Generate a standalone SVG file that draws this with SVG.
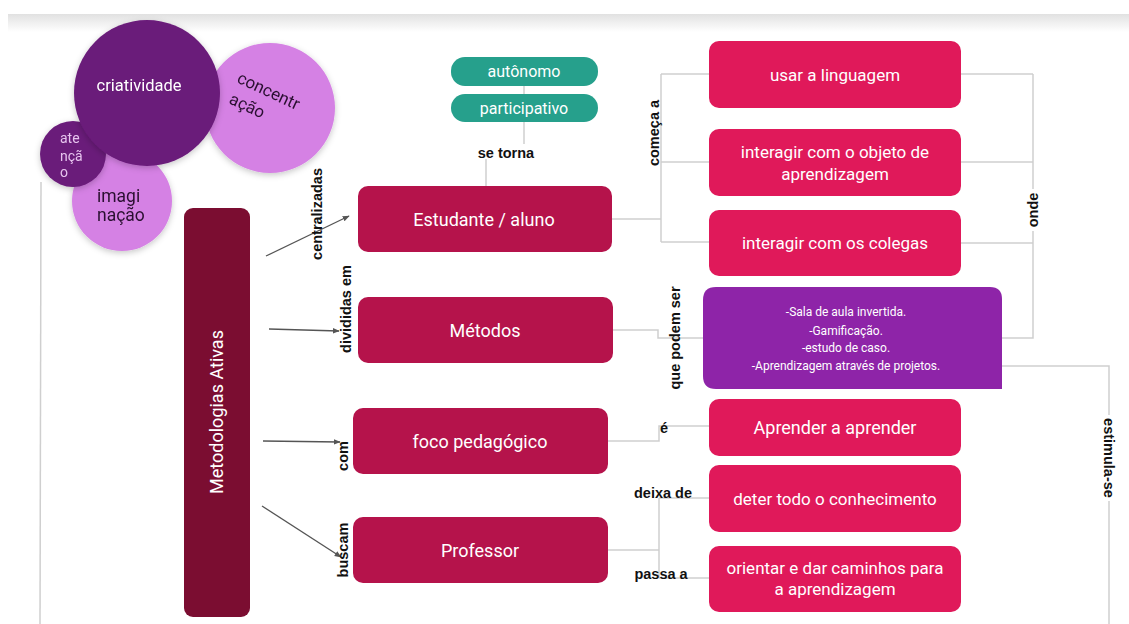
<svg xmlns="http://www.w3.org/2000/svg" width="1129" height="624" viewBox="0 0 1129 624">
  <defs>
    <linearGradient id="topShade" x1="0" y1="0" x2="0" y2="1">
      <stop offset="0" stop-color="#e1e1e1"/>
      <stop offset="1" stop-color="#ffffff"/>
    </linearGradient>
    <filter id="soft" x="-20%" y="-20%" width="140%" height="140%">
      <feDropShadow dx="0" dy="2" stdDeviation="3" flood-color="#000" flood-opacity="0.22"/>
    </filter>
    <marker id="arrow" viewBox="0 0 10 10" refX="9" refY="5" markerWidth="7" markerHeight="7" orient="auto" markerUnits="userSpaceOnUse">
      <path d="M0,1 L10,5 L0,9 z" fill="#555"/>
    </marker>
    <style>
      .node-text { font-family: Roboto, "Liberation Sans", sans-serif; fill: #ffffff; text-anchor: middle; }
      .label { font-family: "Liberation Sans", Arial, sans-serif; font-weight: bold; font-size: 14.5px; fill: #111; text-anchor: middle; }
      .link { fill: none; stroke: #cfcfcf; stroke-width: 1.5; }
      .arrow { fill: none; stroke: #555; stroke-width: 1.3; marker-end: url(#arrow); }
      .crimson { fill: #b5134b; }
      .pink { fill: #e0195a; }
      .teal { fill: #26a08c; }
    </style>
  </defs>

  <rect width="1129" height="624" fill="#ffffff"/>
  <rect x="8" y="14" width="1121" height="18" fill="url(#topShade)"/>

  <!-- connectors -->
  <g id="connectors">
    <!-- left vertical rule -->
    <line class="link" x1="41" y1="182" x2="40" y2="624"/>
    <!-- arrows from Metodologias Ativas -->
    <line class="arrow" x1="266" y1="256" x2="349" y2="216"/>
    <line class="arrow" x1="269" y1="329" x2="339" y2="331"/>
    <line class="arrow" x1="263" y1="441" x2="340" y2="442"/>
    <line class="arrow" x1="262" y1="506" x2="341" y2="557"/>
    <!-- autônomo / participativo / se torna -->
    <line class="link" x1="524" y1="86" x2="524" y2="94"/>
    <line class="link" x1="524" y1="122" x2="524" y2="150"/>
    <line class="link" x1="486" y1="152" x2="486" y2="186"/>
    <!-- Estudante -> começa a -->
    <path class="link" d="M612,219 H661 M661,74 V242 M661,74 H709 M661,162 H709 M661,242 H709"/>
    <!-- onde -->
    <path class="link" d="M961,74 H1033 M961,162 H1033 M961,243 H1033 M1033,74 V338 H1002"/>
    <!-- Métodos -> que podem ser -->
    <path class="link" d="M613,330 H658 V338 H703"/>
    <!-- estimula-se -->
    <path class="link" d="M1002,366 H1109 V624"/>
    <!-- foco -> é -->
    <path class="link" d="M608,441 H659 V426 H709"/>
    <!-- Professor -> deixa de / passa a -->
    <path class="link" d="M608,550 H659 M659,498 V578 M659,498 H709 M659,578 H709"/>
  </g>

  <!-- connector labels -->
  <g id="labels">
    <text class="label" transform="translate(322,214) rotate(-90)">centralizadas</text>
    <text class="label" transform="translate(351,309) rotate(-90)">divididas em</text>
    <text class="label" transform="translate(348,456) rotate(-90)">com</text>
    <text class="label" transform="translate(348,550) rotate(-90)">buscam</text>
    <rect x="476" y="144" width="60" height="15" fill="#fff"/>
    <text class="label" x="506" y="158">se torna</text>
    <text class="label" transform="translate(659,133) rotate(-90)">começa a</text>
    <rect x="1025" y="189" width="15" height="42" fill="#fff"/>
    <text class="label" transform="translate(1038,210) rotate(-90)">onde</text>
    <text class="label" transform="translate(680,338) rotate(-90)">que podem ser</text>
    <text class="label" x="664" y="433">é</text>
    <rect x="1101" y="415" width="15" height="86" fill="#fff"/>
    <text class="label" transform="translate(1104,458) rotate(90)">estimula-se</text>
    <text class="label" x="663" y="498">deixa de</text>
    <text class="label" x="661" y="579">passa a</text>
  </g>

  <!-- circles -->
  <g id="concentracao" filter="url(#soft)">
    <circle cx="270" cy="108" r="65" fill="#d581e4"/>
    <g font-family="Roboto, 'Liberation Sans', sans-serif" font-size="17" fill="#2a1030">
      <text transform="translate(236,82) rotate(25)">concentr</text>
      <text transform="translate(228,103) rotate(25)">ação</text>
    </g>
  </g>
  <g id="imaginacao" filter="url(#soft)">
    <circle cx="122" cy="201" r="50" fill="#d581e4"/>
    <g font-family="Roboto, 'Liberation Sans', sans-serif" font-size="17.5" fill="#2a1030">
      <text x="97" y="202">imagi</text>
      <text x="97" y="221">nação</text>
    </g>
  </g>
  <g id="atencao" filter="url(#soft)">
    <circle cx="73" cy="154" r="33" fill="#6a1b7a"/>
    <g font-family="Roboto, 'Liberation Sans', sans-serif" font-size="14" fill="#e6c4ee">
      <text x="60" y="143">ate</text>
      <text x="60" y="161">nçã</text>
      <text x="60" y="177">o</text>
    </g>
  </g>
  <g id="criatividade" filter="url(#soft)">
    <circle cx="147" cy="93" r="73" fill="#6a1b7a"/>
    <text class="node-text" x="139" y="91" font-size="16.5">criatividade</text>
  </g>

  <!-- main nodes -->
  <g id="metodologias">
    <rect x="184" y="208" width="66" height="409" rx="9" fill="#7b0d31"/>
    <text class="node-text" font-size="18" transform="translate(223,412) rotate(-90)">Metodologias Ativas</text>
  </g>
  <g id="autonomo">
    <rect class="teal" x="451" y="57" width="147" height="29" rx="14"/>
    <text class="node-text" x="524" y="77" font-size="16">autônomo</text>
  </g>
  <g id="participativo">
    <rect class="teal" x="451" y="94" width="147" height="28" rx="14"/>
    <text class="node-text" x="524" y="114" font-size="16">participativo</text>
  </g>
  <g id="estudante">
    <rect class="crimson" x="358" y="186" width="254" height="66" rx="10"/>
    <text class="node-text" x="484" y="226" font-size="18">Estudante / aluno</text>
  </g>
  <g id="metodos">
    <rect class="crimson" x="358" y="297" width="255" height="66" rx="10"/>
    <text class="node-text" x="485" y="337" font-size="18">Métodos</text>
  </g>
  <g id="foco">
    <rect class="crimson" x="353" y="408" width="255" height="66" rx="10"/>
    <text class="node-text" x="480" y="448" font-size="18">foco pedagógico</text>
  </g>
  <g id="professor">
    <rect class="crimson" x="353" y="517" width="255" height="66" rx="10"/>
    <text class="node-text" x="480" y="557" font-size="18">Professor</text>
  </g>

  <g id="usar">
    <rect class="pink" x="709" y="41" width="252" height="67" rx="10"/>
    <text class="node-text" x="835" y="81" font-size="17">usar a linguagem</text>
  </g>
  <g id="objeto">
    <rect class="pink" x="709" y="129" width="252" height="67" rx="10"/>
    <text class="node-text" x="835" y="158" font-size="17">interagir com o objeto de</text>
    <text class="node-text" x="835" y="180" font-size="17">aprendizagem</text>
  </g>
  <g id="colegas">
    <rect class="pink" x="709" y="210" width="252" height="66" rx="10"/>
    <text class="node-text" x="835" y="249" font-size="17">interagir com os colegas</text>
  </g>
  <g id="lista-metodos">
    <path d="M716,287 H990 Q1002,287 1002,299 V389 H716 Q703,389 703,376 V300 Q703,287 716,287 Z" fill="#8e24a8"/>
    <g class="node-text" font-size="12">
      <text x="846" y="316">-Sala de aula invertida.</text>
      <text x="846" y="335">-Gamificação.</text>
      <text x="846" y="352">-estudo de caso.</text>
      <text x="846" y="370">-Aprendizagem através de projetos.</text>
    </g>
  </g>
  <g id="aprender">
    <rect class="pink" x="709" y="399" width="252" height="57" rx="10"/>
    <text class="node-text" x="835" y="434" font-size="18">Aprender a aprender</text>
  </g>
  <g id="deter">
    <rect class="pink" x="709" y="465" width="252" height="67" rx="10"/>
    <text class="node-text" x="835" y="505" font-size="17">deter todo o conhecimento</text>
  </g>
  <g id="orientar">
    <rect class="pink" x="709" y="546" width="252" height="66" rx="10"/>
    <text class="node-text" x="835" y="574" font-size="17">orientar e dar caminhos para</text>
    <text class="node-text" x="835" y="595" font-size="17">a aprendizagem</text>
  </g>
</svg>
